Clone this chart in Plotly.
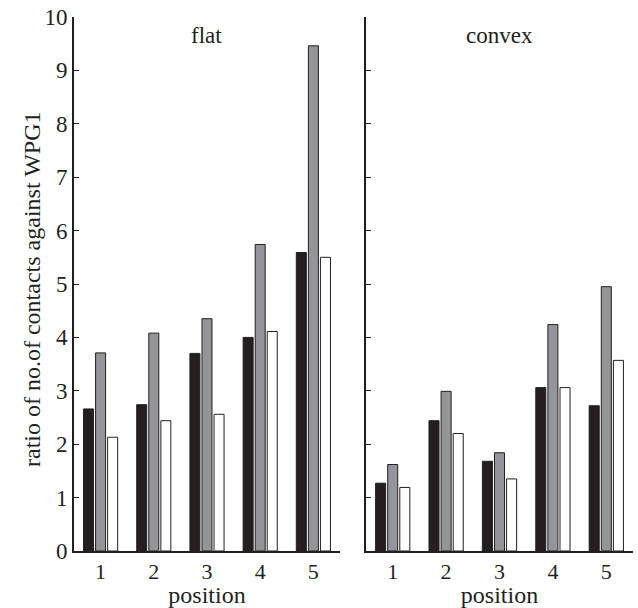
import plotly.graph_objects as go

positions = [1, 2, 3, 4, 5]
tick_labels = ["1", "2", "3", "4", "5"]

flat_black = [2.66, 2.74, 3.70, 4.00, 5.59]
flat_gray = [3.71, 4.08, 4.35, 5.74, 9.46]
flat_white = [2.13, 2.44, 2.56, 4.11, 5.50]

convex_black = [1.27, 2.44, 1.68, 3.06, 2.72]
convex_gray = [1.62, 2.99, 1.84, 4.24, 4.95]
convex_white = [1.19, 2.20, 1.35, 3.06, 3.57]

panel_titles = ["flat", "convex"]
y_title = "ratio of no.of contacts against WPG1"
x_title = "position"

colors = ["#231f20", "#939598", "#ffffff"]
edge = "#231f20"
FONT = "Liberation Serif"

fig = go.Figure()
series = [
    (flat_black, flat_gray, flat_white, "x", "y"),
    (convex_black, convex_gray, convex_white, "x2", "y2"),
]
for b, g, w, xa, ya in series:
    for vals, c in zip((b, g, w), colors):
        fig.add_trace(go.Bar(
            x=positions, y=vals, xaxis=xa, yaxis=ya,
            marker=dict(color=c, line=dict(color=edge, width=1)),
            showlegend=False,
        ))

axis_common = dict(
    showline=True, linecolor=edge, linewidth=1.6, showgrid=False, zeroline=False,
)
xcommon = dict(range=[0.5, 5.5], tickvals=positions, ticktext=tick_labels,
               ticks="", tickfont=dict(size=22, family=FONT),
               title=dict(text=x_title, font=dict(size=24, family=FONT), standoff=0),
               **axis_common)
fig.update_layout(
    width=638, height=608,
    margin=dict(l=74, r=5, t=17, b=57),
    paper_bgcolor="white", plot_bgcolor="white",
    barmode="group", bargap=0.32, bargroupgap=0.17,
    font=dict(family=FONT, color="#231f20"),
    xaxis=dict(domain=[0, 0.4758], **xcommon),
    xaxis2=dict(domain=[0.5224, 1], **xcommon),
    yaxis=dict(range=[0, 10], dtick=1, ticks="inside", ticklen=5, tickcolor=edge, tickwidth=1.2,
               tickfont=dict(size=23, family=FONT), anchor="x", **axis_common),
    yaxis2=dict(range=[0, 10], dtick=1, ticks="inside", ticklen=5, tickcolor=edge, tickwidth=1.2,
                showticklabels=False, anchor="x2", **axis_common),
    annotations=[
        dict(text=panel_titles[0], xref="x domain", yref="y domain", x=0.5, y=0.966,
             xanchor="center", yanchor="middle",
             showarrow=False, font=dict(size=23, family=FONT)),
        dict(text=panel_titles[1], xref="x2 domain", yref="y2 domain", x=0.5, y=0.966,
             xanchor="center", yanchor="middle",
             showarrow=False, font=dict(size=23, family=FONT)),
        dict(text=y_title, xref="paper", yref="paper", x=-0.0751, y=0.4888,
             xanchor="center", yanchor="middle", textangle=-90,
             showarrow=False, font=dict(size=24, family=FONT)),
    ],
)

fig.write_html("out.html", config={"displayModeBar": False},
               post_script="document.body.style.margin='0';")
